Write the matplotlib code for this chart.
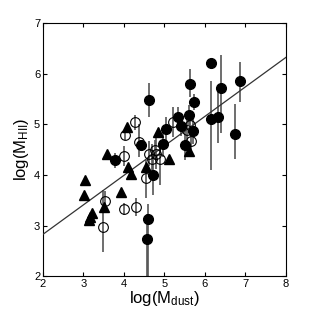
import numpy as np
import matplotlib
matplotlib.use('Agg')
import matplotlib.pyplot as plt

plt.rcParams['font.family'] = ['Liberation Sans', 'DejaVu Sans']
plt.rcParams['mathtext.default'] = 'regular'

# filled circles: x, y, lower err, upper err
fil_x = [3.78, 4.42, 4.62, 4.72, 4.60, 4.57, 4.96, 5.04, 5.33, 5.41, 5.60, 5.73,
         5.70, 5.50, 5.64, 6.15, 6.40, 6.87, 6.15, 6.32, 6.74]
fil_y = [4.29, 4.60, 5.48, 4.00, 3.12, 2.73, 4.61, 4.90, 5.14, 4.97, 5.18, 5.44,
         4.87, 4.59, 5.80, 6.21, 5.72, 5.85, 5.10, 5.14, 4.81]
fil_lo = [0.15, 0.10, 0.34, 0.40, 1.12, 0.80, 0.25, 0.25, 0.20, 0.20, 0.20, 0.15,
          0.25, 0.30, 0.26, 0.08, 0.90, 0.41, 1.00, 0.50, 0.50]
fil_hi = [0.15, 0.10, 0.33, 0.40, 0.30, 0.50, 0.25, 0.25, 0.20, 0.20, 0.20, 0.15,
          0.25, 0.30, 0.29, 0.08, 0.65, 0.38, 0.75, 0.50, 0.60]

# open circles
opn_x = [3.48, 3.53, 4.00, 4.30, 4.54, 4.00, 4.02, 4.27, 4.37, 4.63, 4.79, 4.69,
         4.89, 5.21, 5.56, 5.63, 5.65, 4.77]
opn_y = [2.97, 3.48, 3.32, 3.37, 3.94, 4.37, 4.79, 5.04, 4.65, 4.42, 4.42, 4.31,
         4.31, 5.05, 4.88, 4.98, 4.67, 4.50]
opn_lo = [0.50, 0.20, 0.12, 0.18, 0.40, 0.20, 0.10, 0.15, 0.30, 0.25, 0.30, 0.30,
          0.50, 0.30, 0.20, 0.15, 0.20, 0.20]
opn_hi = [0.73, 0.20, 0.12, 0.18, 0.35, 0.20, 0.10, 0.15, 0.35, 0.25, 0.30, 0.30,
          0.30, 0.30, 0.20, 0.15, 0.20, 0.20]

# triangles
tri_x = [3.04, 3.01, 3.20, 3.17, 3.13, 3.50, 3.58, 3.93, 4.10, 4.17, 4.07, 4.54,
         4.84, 5.11, 5.60]
tri_y = [3.90, 3.60, 3.25, 3.17, 3.10, 3.36, 4.41, 3.66, 4.15, 4.02, 4.94, 4.15,
         4.85, 4.31, 4.47]

# fit line
fit_a = 1.66
fit_b = 0.583

fig = plt.figure(figsize=(3.16, 3.17), dpi=100)
ax = fig.add_axes([0.136, 0.129, 0.769, 0.798])

ax.errorbar(opn_x, opn_y, yerr=[opn_lo, opn_hi], fmt='none', ecolor='#555555',
            elinewidth=1.2, capsize=0, zorder=2)
ax.errorbar(fil_x, fil_y, yerr=[fil_lo, fil_hi], fmt='none', ecolor='#555555',
            elinewidth=1.2, capsize=0, zorder=2)

xx = np.array([2, 8])
ax.plot(xx, fit_a + fit_b * xx, color='#333333', lw=0.9, zorder=3)

ax.plot(opn_x, opn_y, 'o', mfc='none', mec='black', mew=0.8, ms=7, zorder=4)
ax.plot(fil_x, fil_y, 'o', color='black', ms=7, zorder=5)
ax.plot(tri_x, tri_y, '^', color='black', ms=7.5, zorder=5)

ax.set_xlim(2, 8)
ax.set_ylim(2, 7)
ax.set_xticks(range(2, 9))
ax.set_yticks(range(2, 8))
ax.tick_params(direction='in', top=True, right=True, length=3, labelsize=8, pad=2)
ax.set_xlabel(r'log(M$_{dust}$)', fontsize=12, labelpad=0)
ax.set_ylabel(r'log(M$_{HII}$)', fontsize=12, labelpad=2)

fig.savefig('out.png', dpi=100)
